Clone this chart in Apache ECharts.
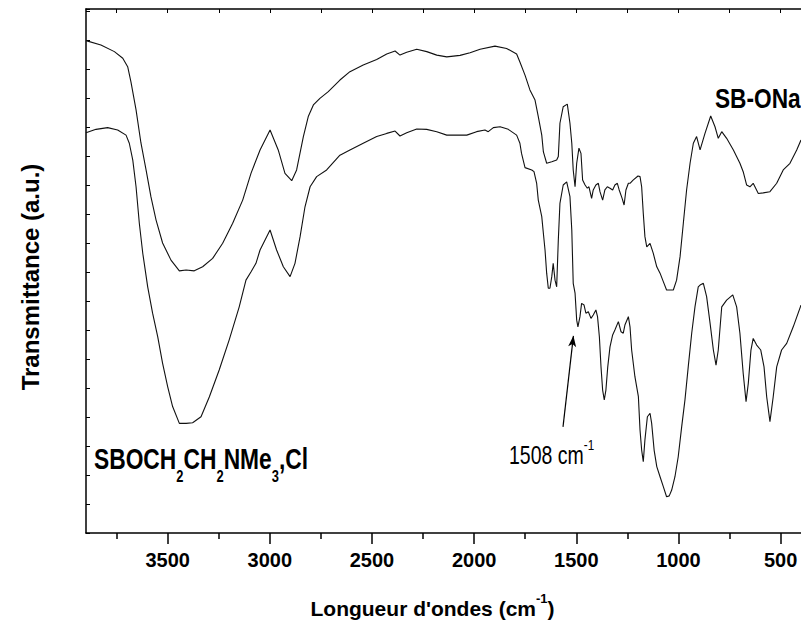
<!DOCTYPE html>
<html>
<head>
<meta charset="utf-8">
<script src="https://cdn.jsdelivr.net/npm/echarts@6/dist/echarts.min.js"></script>
<style>
html,body{margin:0;padding:0;background:#fff;}
#chart{width:801px;height:630px;}
</style>
</head>
<body>
<div id="chart"></div>
<script>
// ---- data (wavenumber cm^-1, transmittance a.u.) ----
var wnUpper = [3900,3827,3761,3720,3696,3680,3655,3631,3606,3582,3557,3525,3484,3443,3410,3370,3329,3280,3231,3182,3133,3092,3048,2999,2959,2926,2893,2869,2836,2812,2787,2755,2714,2657,2608,2543,2477,2428,2387,2363,2330,2281,2232,2183,2134,2069,2020,1971,1898,1841,1792,1776,1751,1727,1702,1686,1669,1661,1645,1620,1596,1588,1580,1564,1544,1531,1522,1515,1506,1498,1487,1477,1469,1457,1446,1438,1425,1417,1404,1392,1384,1371,1360,1348,1335,1322,1311,1299,1290,1276,1266,1257,1245,1237,1222,1198,1188,1180,1172,1164,1155,1139,1123,1106,1090,1074,1058,1025,1009,992,976,960,943,927,911,894,870,842,821,805,788,764,731,699,683,666,650,634,609,585,552,519,487,454,421,400];
var tUpper = [16.98,16.83,16.60,16.37,16.08,15.56,14.59,13.45,12.52,11.59,10.79,10.00,9.41,9.04,9.07,9.04,9.18,9.47,9.99,10.68,11.48,12.41,13.21,13.90,13.21,12.40,12.15,12.52,13.67,14.36,14.76,14.99,15.22,15.62,15.91,16.14,16.33,16.52,16.62,16.48,16.58,16.68,16.60,16.48,16.42,16.47,16.56,16.68,16.79,16.71,16.52,16.24,15.79,15.28,14.93,14.36,13.72,13.14,12.75,12.80,12.86,12.98,14.13,14.70,14.79,14.13,13.44,12.52,11.94,12.75,13.27,13.09,12.17,12.00,11.89,11.94,11.54,11.83,12.00,12.06,11.77,11.48,11.83,11.94,11.89,11.83,12.00,12.06,11.83,11.55,11.31,11.83,12.06,12.06,12.17,12.31,12.29,11.94,11.02,10.22,9.87,9.99,9.64,9.18,8.96,8.67,8.38,8.38,8.72,9.53,10.68,11.83,12.75,13.44,13.67,13.21,13.78,14.38,14.01,13.61,13.84,13.61,13.21,12.75,12.46,12.00,11.94,12.06,11.71,11.73,11.77,12.06,12.52,12.75,13.21,13.55];
var wnLower = [3900,3851,3794,3745,3704,3688,3671,3655,3639,3622,3598,3574,3549,3525,3500,3476,3443,3410,3378,3337,3296,3248,3199,3150,3117,3092,3068,3048,2999,2967,2934,2901,2877,2852,2828,2803,2771,2722,2657,2608,2543,2477,2428,2387,2363,2330,2281,2232,2183,2134,2036,1988,1947,1931,1906,1873,1833,1792,1776,1768,1751,1718,1707,1694,1686,1669,1661,1653,1645,1637,1629,1620,1613,1604,1596,1588,1580,1564,1547,1531,1522,1515,1506,1498,1492,1482,1474,1462,1453,1441,1428,1417,1404,1396,1387,1379,1371,1363,1355,1346,1335,1322,1311,1294,1281,1270,1262,1245,1237,1229,1213,1196,1188,1180,1172,1164,1152,1139,1131,1119,1106,1090,1074,1058,1045,1033,1017,1001,984,968,952,935,919,903,894,878,862,845,829,816,805,788,764,734,715,699,683,669,658,645,634,617,597,581,568,552,536,519,495,470,438,400];
var tLower = [13.80,13.92,13.98,13.90,13.72,13.44,12.86,11.94,10.68,9.64,8.49,7.58,6.77,5.85,5.04,4.36,3.78,3.78,3.80,4.01,4.70,5.62,6.66,7.80,8.72,9.01,9.30,9.76,10.45,9.76,9.18,8.84,9.30,10.22,11.25,11.94,12.29,12.52,13.03,13.21,13.44,13.67,13.78,13.86,13.69,13.80,13.93,13.92,13.84,13.72,13.72,13.84,13.90,13.84,13.98,14.01,13.92,13.72,13.44,13.09,12.60,12.52,12.46,12.06,11.48,10.91,10.33,9.76,8.96,8.44,8.44,8.84,9.30,8.72,8.49,10.10,11.37,12.00,12.11,11.60,10.45,8.61,8.27,7.34,7.11,7.46,7.92,7.86,7.58,7.63,7.40,7.52,7.69,7.46,6.77,5.73,4.93,4.59,4.93,5.73,6.42,6.83,7.00,7.29,6.94,6.89,7.17,7.46,7.11,6.31,5.39,4.70,3.55,2.86,2.46,3.21,4.01,4.13,3.78,2.86,2.29,1.94,1.60,1.25,1.28,1.48,1.94,2.63,3.67,4.59,5.73,6.89,7.80,8.49,8.55,8.61,8.15,7.23,6.31,5.79,6.31,7.80,8.03,8.21,7.80,6.89,5.51,4.53,5.16,6.31,6.71,6.48,6.31,5.73,4.70,3.84,4.70,5.73,6.31,6.54,7.11,7.86];
var majorTicks = [500,1000,1500,2000,2500,3000,3500];
var minorTicks = [750,1250,1750,2250,2750,3250,3750];
var arrowFrom = [1565, 3.66];
var arrowTo = [1514, 6.80];

function pairs(xs, ys){ var out=[]; for(var i=0;i<xs.length;i++) out.push([xs[i], ys[i]]); return out; }

var SANS = "'Liberation Sans',Arial,sans-serif";

var chart = echarts.init(document.getElementById('chart'), null, {renderer:'svg'});
var X_MIN = 400, X_MAX = 3900;
var option = {
  animation:false,
  backgroundColor:'#fff',
  grid:{left:86, top:9, right:0, bottom:97, containLabel:false, outerBoundsMode:'none'},
  xAxis:[
    {type:'value', inverse:true, min:X_MIN, max:X_MAX, position:'bottom',
     axisLine:{show:true, lineStyle:{color:'#000', width:1.5}},
     axisTick:{show:true, customValues:majorTicks, length:11, inside:false, lineStyle:{color:'#000', width:1.5}},
     axisLabel:{show:true, customValues:majorTicks, margin:17, color:'#000', fontFamily:SANS, fontWeight:'bold', fontSize:20,
       formatter:function(v){ return String(v); }},
     splitLine:{show:false},
     name:"{m|Longueur d'ondes (cm}{s|-1}{m|)}", nameLocation:'middle', nameGap:59,
     nameTextStyle:{padding:[0,22,0,0], rich:{
       m:{fontFamily:SANS, fontWeight:'bold', fontSize:21, color:'#000', lineHeight:21, verticalAlign:'top', padding:[6,0,0,0]},
       s:{fontFamily:SANS, fontWeight:'bold', fontSize:13, color:'#000', lineHeight:13, verticalAlign:'top', padding:[0,0,0,0]}
     }}
    },
    {type:'value', inverse:true, min:X_MIN, max:X_MAX, position:'bottom',
     axisLine:{show:false},
     axisTick:{show:true, customValues:minorTicks, length:6, inside:false, lineStyle:{color:'#000', width:1.5}},
     axisLabel:{show:false}, splitLine:{show:false}},
    {type:'value', inverse:true, min:X_MIN, max:X_MAX, position:'top',
     axisLine:{show:true, lineStyle:{color:'#000', width:1.5}},
     axisTick:{show:true, customValues:majorTicks.concat(minorTicks), length:4, inside:true, lineStyle:{color:'#000', width:1}},
     axisLabel:{show:false}, splitLine:{show:false}}
  ],
  yAxis:[
    {type:'value', min:0, max:18.07, interval:1, position:'left',
     axisLine:{show:true, lineStyle:{color:'#000', width:1.5}},
     axisTick:{show:true, inside:true, length:4, lineStyle:{color:'#000', width:1}},
     axisLabel:{show:false}, splitLine:{show:false},
     name:'Transmittance (a.u.)', nameLocation:'middle', nameGap:44,
     nameTextStyle:{fontFamily:SANS, fontWeight:'bold', fontSize:24, color:'#000', padding:[0,12,0,0]}}
  ],
  series:[
    {name:'SB-ONa', type:'line', xAxisIndex:0, yAxisIndex:0, data:pairs(wnUpper,tUpper),
     showSymbol:false, symbol:'none', lineStyle:{color:'#111', width:1.1}},
    {name:'SBOCH2CH2NMe3,Cl', type:'line', xAxisIndex:0, yAxisIndex:0, data:pairs(wnLower,tLower),
     showSymbol:false, symbol:'none', lineStyle:{color:'#111', width:1.1},
     markLine:{silent:true, symbol:['none','arrow'], symbolSize:[6,11], label:{show:false},
       lineStyle:{color:'#000', width:1.2, type:'solid'},
       data:[[{coord:arrowFrom},{coord:arrowTo}]]}}
  ],
  graphic:[
    {type:'text', x:715, y:84, scaleX:0.81,
     style:{text:'SB-ONa', fill:'#000', font:'bold 28px '+SANS, align:'left', verticalAlign:'top'}},
    {type:'text', x:94, y:444, scaleX:0.76,
     style:{text:'{a|SBOCH}{s|2}{a|CH}{s|2}{a|NMe}{s|3}{a|,Cl}', align:'left', verticalAlign:'top',
       rich:{
         a:{fontFamily:SANS, fontWeight:'bold', fontSize:30, lineHeight:30, fill:'#000', verticalAlign:'top'},
         s:{fontFamily:SANS, fontWeight:'bold', fontSize:17, lineHeight:17, fill:'#000', verticalAlign:'top', padding:[23,0,0,0]}
       }}},
    {type:'text', x:509, y:437, scaleX:0.78,
     style:{text:'{a|1508 cm}{s|-1}', align:'left', verticalAlign:'top',
       rich:{
         a:{fontFamily:SANS, fontSize:25, lineHeight:25, fill:'#000', verticalAlign:'top', padding:[6,0,0,0]},
         s:{fontFamily:SANS, fontSize:15, lineHeight:15, fill:'#000', verticalAlign:'top'}
       }}}
  ]
};
chart.setOption(option);
</script>
</body>
</html>
